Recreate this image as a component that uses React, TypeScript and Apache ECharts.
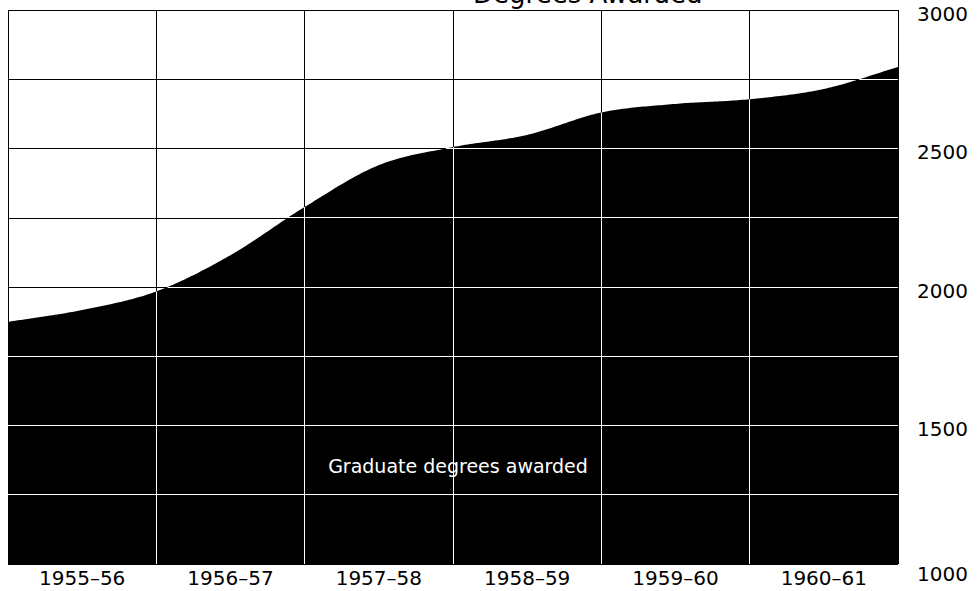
import React, { useEffect, useRef } from 'react';
import * as echarts from 'echarts';

// Academic years shown on the horizontal axis
const periods = ['1955–56', '1956–57', '1957–58', '1958–59', '1959–60', '1960–61'];
// Time positions (in years from the start) where the curve was read
const timePoints = [0, 0.5, 1, 1.5, 2, 2.5, 3, 3.5, 4, 4.5, 5, 5.5, 6];
// Graduate degrees awarded
const degreesAwarded = [1874, 1917, 1984, 2115, 2289, 2440, 2505, 2549, 2630, 2661, 2678, 2715, 2794];
// Horizontal grid values (every 250), labelled every 500
const gridValues = [1250, 1500, 1750, 2000, 2250, 2500, 2750];
const yMin = 1000;
const yMax = 3000;
const boundaryPositions = [1, 2, 3, 4, 5];
const areaLabel = 'Graduate degrees awarded';
const titleText = 'Degrees Awarded';

const FONT = 'DejaVu Sans';

function smoothSamples(pts: number[][], steps: number): number[][] {
  const out: number[][] = [];
  const n = pts.length;
  for (let i = 0; i < n - 1; i++) {
    const p1 = pts[i];
    const p2 = pts[i + 1];
    const p0 = i > 0 ? pts[i - 1] : [2 * p1[0] - p2[0], 2 * p1[1] - p2[1]];
    const p3 = i + 2 < n ? pts[i + 2] : [2 * p2[0] - p1[0], 2 * p2[1] - p1[1]];
    for (let s = 0; s < steps; s++) {
      const t = s / steps;
      const t2 = t * t;
      const t3 = t2 * t;
      const f = (a: number, b: number, c: number, d: number) =>
        0.5 * (2 * b + (-a + c) * t + (2 * a - 5 * b + 4 * c - d) * t2 + (-a + 3 * b - 3 * c + d) * t3);
      out.push([f(p0[0], p1[0], p2[0], p3[0]), f(p0[1], p1[1], p2[1], p3[1])]);
    }
  }
  out.push(pts[n - 1]);
  return out;
}

const crisp = (v: number) => Math.floor(v) + 0.5;

export default function App() {
  const ref = useRef<HTMLDivElement>(null);

  useEffect(() => {
    if (!ref.current) return;
    const chart = echarts.init(ref.current, null, { renderer: 'svg' });

    const renderItem = (params: any, api: any) => {
      if (params.dataIndex !== 0) return null;
      const pts = timePoints.map((t, i) => api.coord([t, degreesAwarded[i]]));
      const curve = smoothSamples(pts, 30);
      const yBase = api.coord([0, yMin])[1];
      const xLeft = pts[0][0];
      const xRight = pts[pts.length - 1][0];
      const children: any[] = [];
      children.push({
        type: 'polygon',
        shape: { points: [[xLeft, yBase], ...curve, [xRight, yBase]] },
        style: { fill: '#000', stroke: null },
      });
      // white vertical grid lines inside the filled area
      boundaryPositions.forEach((b) => {
        const idx = timePoints.indexOf(b);
        const p = pts[idx];
        const x = crisp(p[0]);
        children.push({
          type: 'line',
          shape: { x1: x, y1: yBase, x2: x, y2: p[1] },
          style: { stroke: '#fff', lineWidth: 1 },
        });
      });
      // white horizontal grid lines inside the filled area
      gridValues.forEach((v) => {
        const yLine = api.coord([0, v])[1];
        const segs: number[][] = [];
        let start: number | null = null;
        for (let k = 0; k < curve.length; k++) {
          const [cx, cy] = curve[k];
          const above = cy < yLine;
          if (k === 0) {
            if (above) start = cx;
            continue;
          }
          const [px, py] = curve[k - 1];
          const prevAbove = py < yLine;
          if (above !== prevAbove) {
            const xc = px + ((cx - px) * (yLine - py)) / (cy - py);
            if (above) start = xc;
            else if (start !== null) {
              segs.push([start, xc]);
              start = null;
            }
          }
        }
        if (start !== null) segs.push([start, curve[curve.length - 1][0]]);
        const y = crisp(yLine);
        segs.forEach(([a, b]) => {
          children.push({
            type: 'line',
            shape: { x1: a, y1: y, x2: b, y2: y },
            style: { stroke: '#fff', lineWidth: 1 },
          });
        });
      });
      return { type: 'group', children };
    };

    chart.setOption({
      animation: false,
      backgroundColor: '#fff',
      grid: { left: 8, right: 82, top: 10, bottom: 27, containLabel: false },
      xAxis: [
        {
          type: 'value',
          min: 0,
          max: 6,
          interval: 1,
          axisLine: { show: false },
          axisTick: { show: false },
          axisLabel: { show: false },
          splitLine: { show: true, lineStyle: { color: '#000', width: 1 } },
        },
        {
          type: 'category',
          data: periods,
          boundaryGap: true,
          position: 'bottom',
          axisLine: { show: false },
          axisTick: { show: false },
          splitLine: { show: false },
          axisLabel: { color: '#000', fontFamily: FONT, fontSize: 20, margin: 4 },
        },
      ],
      yAxis: {
        type: 'value',
        position: 'right',
        min: yMin,
        max: yMax,
        interval: 250,
        axisLine: { show: false },
        axisTick: { show: false },
        axisLabel: {
          color: '#000',
          fontFamily: FONT,
          fontSize: 20,
          margin: 19,
          padding: [7, 0, 0, 0],
          formatter: (v: number) =>
            v === yMin ? `{low|${v}}` : v % 500 === 0 ? String(v) : '',
          rich: {
            low: {
              color: '#000',
              fontFamily: FONT,
              fontSize: 20,
              padding: [12, 0, 0, 0],
            },
          },
        },
        splitLine: { show: true, lineStyle: { color: '#000', width: 1 } },
      },
      graphic: [
        {
          type: 'text',
          z: 100,
          x: 458,
          y: 466,
          style: {
            text: areaLabel,
            fill: '#fff',
            font: `19px "${FONT}"`,
            textAlign: 'center',
            textVerticalAlign: 'middle',
          },
        },
        {
          type: 'text',
          z: 100,
          x: 473,
          y: -6,
          style: {
            text: titleText,
            fill: '#000',
            font: `26px "${FONT}"`,
            textAlign: 'left',
            textVerticalAlign: 'middle',
          },
        },
      ],
      series: [
        {
          type: 'custom',
          name: areaLabel,
          xAxisIndex: 0,
          yAxisIndex: 0,
          clip: false,
          data: timePoints.map((t, i) => [t, degreesAwarded[i]]),
          renderItem,
        },
      ],
    });

    return () => chart.dispose();
  }, []);

  return (
    <div
      ref={ref}
      style={{ position: 'fixed', left: 0, top: 0, width: 980, height: 591 }}
    />
  );
}
